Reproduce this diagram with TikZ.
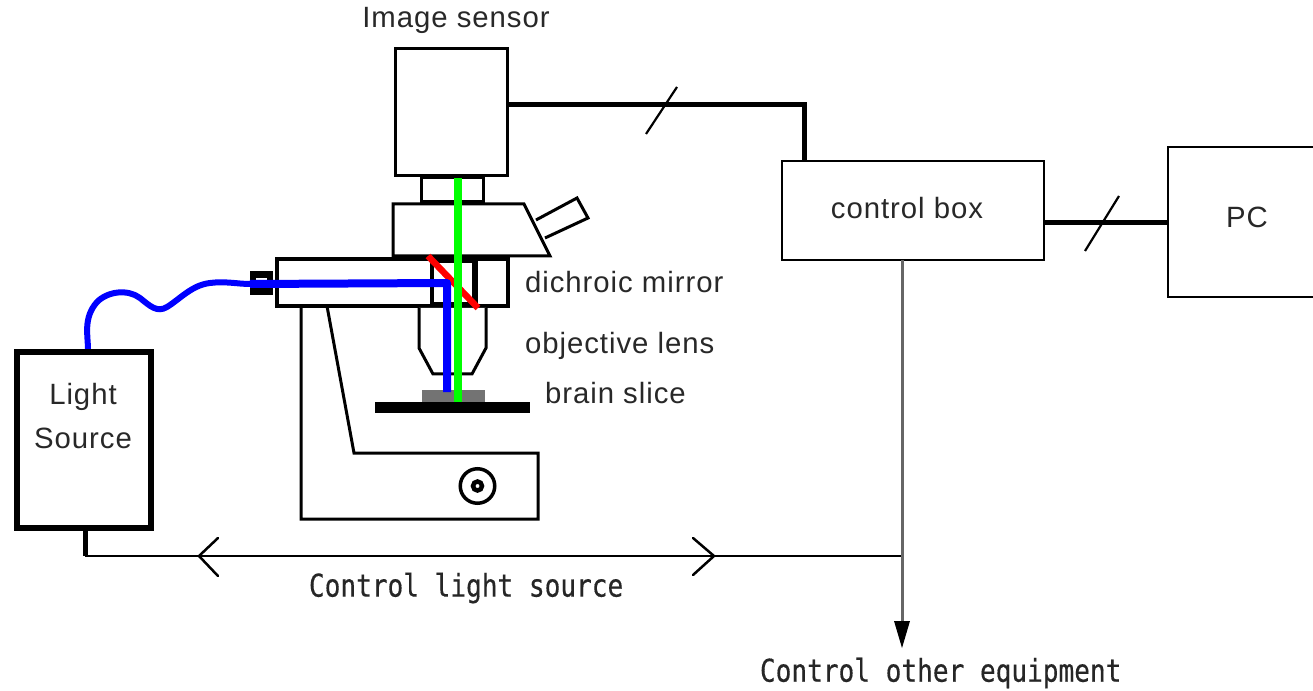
\documentclass[tikz,border=0pt]{standalone}
\usepackage{fontspec}
\setmainfont{Liberation Sans}
\newfontfamily\lblfont[LetterSpace=3.3]{Liberation Sans}
\newfontfamily\monofont[FakeStretch=0.833,FakeBold=0.4]{DejaVu Sans Mono}
\definecolor{lblue}{RGB}{0,0,255}
\definecolor{lgreen}{RGB}{0,255,0}
\definecolor{lred}{RGB}{255,0,0}
\definecolor{txt}{RGB}{40,40,40}
\tikzset{
  x=0.75pt,y=-0.75pt,
  pxw/.style={line width=#1*0.75pt},
  box/.style={draw=black,fill=white,inner sep=0pt,outer sep=0pt,pxw=2.5},
  outline/.style={draw=black,pxw=3,line join=miter},
  wire/.style={draw=black,pxw=5},
  thin wire/.style={draw=black,pxw=2.2},
  label/.style={inner sep=0pt,outer sep=0pt,text=txt,font=\lblfont\fontsize{22}{22}\selectfont},
  mono/.style={inner sep=0pt,outer sep=0pt,text=black!85,font=\monofont\fontsize{23.5}{24}\selectfont},
  openhead/.style={draw=black,pxw=2.5,line cap=round},
}
\begin{document}
\begin{tikzpicture}
\useasboundingbox (0,0) rectangle (1313,691);
\fill[white] (0,0) rectangle (1313,691);
% microscope body
\draw[outline] (301,306) -- (301,519) -- (538,519) -- (538,453) -- (354,453) -- (327,306);
\node[box,pxw=3.5,minimum width=155*0.75pt,minimum height=47*0.75pt,anchor=north west] (arm) at (277,259) {};
\node[box,pxw=3.5,minimum width=32*0.75pt,minimum height=47*0.75pt,anchor=north west] (armr) at (476,259) {};
\node[fill=black,inner sep=0pt,outer sep=0pt,minimum width=48*0.75pt,minimum height=51*0.75pt,anchor=north west] (cube) at (430,257) {};
\node[fill=white,inner sep=0pt,outer sep=0pt,minimum width=38*0.75pt,minimum height=39*0.75pt,anchor=north west] (cubein) at (434,263) {};
% head
\draw[outline,fill=white] (393,256) -- (393,204) -- (524,204) -- (550,256) -- cycle;
\draw[outline,fill=white] (536,220) -- (577,198) -- (588,218) -- (545,238);
% objective
\draw[outline,fill=white] (419,308) -- (419,348) -- (433,374) -- (472,374) -- (486,348) -- (486,308);
% sensor
\node[box,pxw=3,minimum width=62*0.75pt,minimum height=24*0.75pt,anchor=north west] (tube) at (421,178) {};
\node[box,pxw=3,minimum width=112*0.75pt,minimum height=127*0.75pt,anchor=north west] (sensor) at (395,49) {};
% sample
\fill[black!55] (422,390) rectangle (485,403);
\fill[black] (375,402) rectangle (530,413);
% knob
\node[circle,draw=black,pxw=3.5,minimum size=34.5*0.75pt,inner sep=0pt] (knob) at (477.5,486) {};
\node[circle,draw=black,pxw=4.5,minimum size=9*0.75pt,inner sep=0pt] (knobin) at (477.5,486) {};
% light paths
\draw[lred,pxw=6.5] (428,256) -- (478,308);
\coordinate (hoseA) at (88,350);
\coordinate (hoseB) at (250,284);
\coordinate (bend) at (447,283);
\draw[lgreen,pxw=8] (458,178) -- (458,402);
\draw[lblue,pxw=6] (hoseA) .. controls (88,335) and (83,318) .. (97,302) .. controls (108,291) and (128,289) .. (140,298) .. controls (150,306) and (157,313) .. (167,307) .. controls (180,299) and (192,285) .. (210,283) .. controls (225,281) and (238,284) .. (hoseB);
\node[draw=black,pxw=6.5,inner sep=0pt,minimum size=17*0.75pt] (port) at (261.5,283) {};
\draw[lblue,pxw=8,line join=round] (hoseB) -- (bend) -- (447,392);
% light source
\node[draw=black,fill=white,pxw=6,inner sep=0pt,outer sep=0pt,minimum width=134*0.75pt,minimum height=176*0.75pt] (light) at (83.5,440) {};
\node[label,align=center] (lighttxt) at (83,416) {Light\\[10.5pt]Source};
% control box and PC
\node[box,minimum width=262*0.75pt,minimum height=99*0.75pt,anchor=north west] (ctrl) at (782,161) {};
\node[label,anchor=center] (ctrltxt) at (907,208) {control box};
\node[box,minimum width=150*0.75pt,minimum height=150*0.75pt,anchor=north west] (pc) at (1168,147) {};
\node[label] (pctxt) at (1247,217) {PC};
% labels
\node[label] (lsensor) at (456,20) {Image sensor};
\node[label,anchor=west] (ldich) at (525,282) {dichroic mirror};
\node[label,anchor=west] (lobj) at (525,346) {objective lens};
\node[label,anchor=west] (lslice) at (545,393) {brain slice};
\node[mono,anchor=west] (lctl) at (309,588) {Control light source};
\node[mono,anchor=west] (lother) at (760,673) {Control other equipment};
% wires
\coordinate (ctrlin) at (804,161);
\coordinate (sout) at (507,105);
\draw[wire] (sout) -- (804,105) -- (ctrlin);
\coordinate (s1a) at (646,134); \coordinate (s1b) at (677,87);
\draw[thin wire] (s1a) -- (s1b);
\coordinate (cout) at (1044,223); \coordinate (pcin) at (1168,223);
\draw[wire] (cout) -- (pcin);
\coordinate (s2a) at (1085,251); \coordinate (s2b) at (1119,196);
\draw[thin wire] (s2a) -- (s2b);
\coordinate (lsout) at (85,528);
\coordinate (corner) at (85,556);
\coordinate (junction) at (902,556);
\coordinate (ctrlout) at (902,260);
\coordinate (otherend) at (902,648);
\draw[wire] (lsout) -- (corner);
\draw[thin wire] (corner) -- (junction);
\draw[draw=black!60,pxw=3] (ctrlout) -- (902,625);
\fill[black] (894,621) -- (910,621) -- (otherend) -- cycle;
\coordinate (ltip) at (199,556); \coordinate (rtip) at (714,556);
\draw[openhead] (218,538) -- (ltip) -- (218,576);
\draw[openhead] (693,538) -- (rtip) -- (693,575);
\end{tikzpicture}
\end{document}
